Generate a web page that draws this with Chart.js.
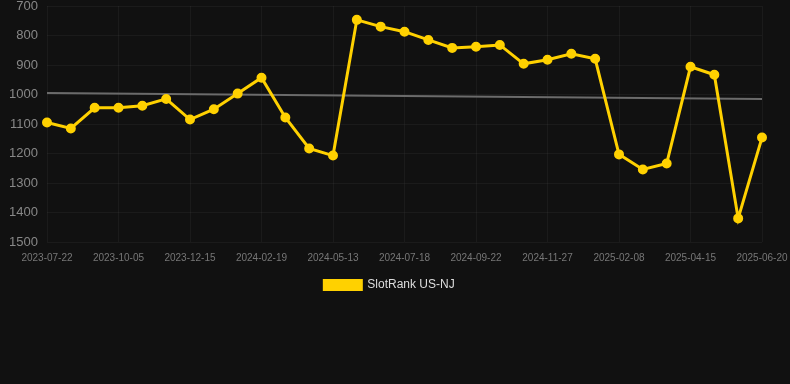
<!DOCTYPE html>
<html>
<head>
<meta charset="utf-8">
<script src="https://cdn.jsdelivr.net/npm/chart.js@4/dist/chart.umd.min.js"></script>
<style>
  html, body { margin: 0; padding: 0; background: #111111; }
  #wrap { width: 790px; height: 301px; position: relative; }
</style>
</head>
<body>
<div id="wrap"><canvas id="rank"></canvas></div>
<script>
const dates = [
  '2023-07-22', '2023-08-16', '2023-09-10', '2023-10-05', '2023-10-29', '2023-11-22',
  '2023-12-15', '2024-01-06', '2024-01-28', '2024-02-19', '2024-03-16', '2024-04-14',
  '2024-05-13', '2024-06-03', '2024-06-26', '2024-07-18', '2024-08-09', '2024-08-31',
  '2024-09-22', '2024-10-14', '2024-11-05', '2024-11-27', '2024-12-21', '2025-01-15',
  '2025-02-08', '2025-03-02', '2025-03-24', '2025-04-15', '2025-05-07', '2025-05-29',
  '2025-06-20'
];
const rankNJ = [
  1095, 1115, 1045, 1045, 1038, 1015, 1085, 1050, 997, 943, 1078, 1183,
  1207, 747, 770, 787, 815, 842, 838, 832, 896, 882, 862, 879,
  1203, 1254, 1234, 906, 933, 1420, 1146
];
// trend line: only the two ends, gap spanned
const trendNJ = [995].concat(new Array(29).fill(null), [1015]);
const yTicks = [700, 800, 900, 1000, 1100, 1200, 1300, 1400, 1500];

const ctx = document.getElementById('rank').getContext('2d');
const graph = new Chart(ctx, {
  type: 'line',
  data: {
    labels: dates,
    datasets: [{
      label: 'SlotRank US-NJ',
      data: rankNJ,
      borderColor: '#ffd100',
      backgroundColor: '#ffd100',
      borderWidth: 3,
      pointRadius: 4,
      pointBorderWidth: 2,
      pointHoverRadius: 4,
      tension: 0,
      fill: false
    }, {
      label: 'trend',
      data: trendNJ,
      borderColor: '#6b6b6b',
      borderWidth: 2,
      pointRadius: 0,
      spanGaps: true,
      fill: false
    }]
  },
  options: {
    animation: false,
    responsive: true,
    maintainAspectRatio: false,
    layout: { padding: { top: 0, right: 11, left: 0, bottom: 0 } },
    plugins: {
      legend: {
        position: 'bottom',
        labels: {
          filter: item => item.text !== 'trend',
          color: '#dddddd',
          boxWidth: 37,
          boxHeight: 9,
          padding: 5,
          font: { family: 'Liberation Sans, Arial, sans-serif', size: 12 }
        }
      },
      tooltip: { enabled: false }
    },
    scales: {
      x: {
        afterFit: axis => { axis.paddingLeft = 0; axis.paddingRight = 28; },
        grid: { color: 'rgba(255,255,255,0.045)', drawTicks: false },
        border: { display: false },
        ticks: {
          color: '#777777',
          maxRotation: 0,
          autoSkip: false,
          padding: 4,
          callback: function (v, i) { return i % 3 === 0 ? dates[i] : null; },
          font: { family: 'Liberation Sans, Arial, sans-serif', size: 10, lineHeight: 2.4 }
        }
      },
      y: {
        reverse: true,
        min: 700,
        max: 1500,
        afterBuildTicks: axis => { axis.ticks = yTicks.map(v => ({ value: v })); },
        afterFit: axis => { axis.width = 47; axis.paddingTop = 6; axis.paddingBottom = 0; },
        grid: { color: 'rgba(255,255,255,0.045)', drawTicks: true, tickLength: 8, tickColor: 'rgba(0,0,0,0)' },
        border: { display: false },
        ticks: {
          color: '#888888',
          padding: 1,
          callback: v => String(v),
          font: { family: 'Liberation Sans, Arial, sans-serif', size: 13 }
        }
      }
    }
  }
});
</script>
</body>
</html>
